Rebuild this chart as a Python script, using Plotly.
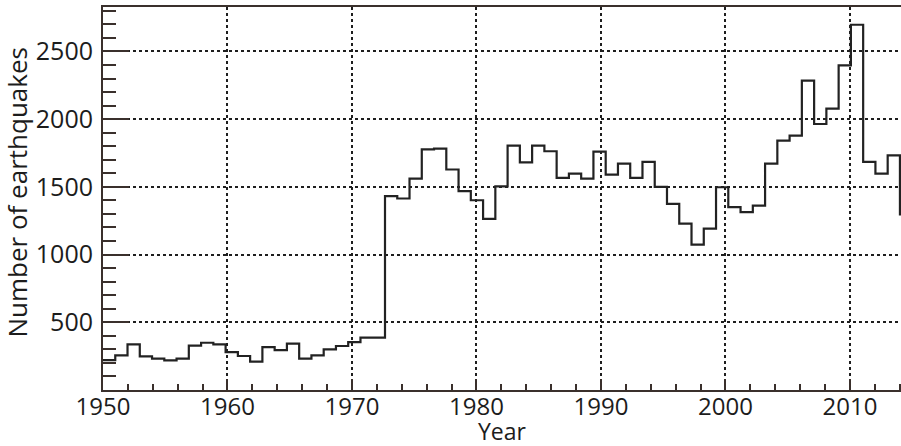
import numpy as np
import plotly.graph_objects as go

# Histogram binning (ROOT-style: 66 bins spanning 1950-2015)
bin_low = 1950
bin_high = 2015
n_bins = 66

# Number of earthquakes per bin
counts = [
    221, 256, 337, 248, 232, 219, 232, 327, 349, 337,   # 1950s
    280, 251, 209, 317, 295, 342, 231, 256, 300, 325,   # 1960s
    354, 386, 387, 1431, 1414, 1561, 1777, 1782, 1628, 1468,  # 1970s
    1401, 1264, 1504, 1805, 1681, 1805, 1763, 1566, 1598, 1561,  # 1980s
    1760, 1591, 1672, 1566, 1684, 1500, 1375, 1229, 1074, 1192,  # 1990s
    1497, 1351, 1313, 1362, 1672, 1841, 1878, 2284, 1964, 2077,  # 2000s
    2397, 2697, 1684, 1598, 1733, 1297,
]

x_tick_years = [1950, 1960, 1970, 1980, 1990, 2000, 2010]
y_tick_values = [500, 1000, 1500, 2000, 2500]

x_title = "Year"
y_title = "Number of earthquakes"

edges = np.linspace(bin_low, bin_high, n_bins + 1)
xs = list(edges)
ys = list(counts) + [counts[-1]]

AXIS_COLOR = "#3a302c"
GRID_COLOR = "#1e1e1e"
FONT = "Open Sans"
TEXT_COLOR = "#1c1c1c"

fig = go.Figure()
fig.add_trace(go.Scatter(
    x=xs, y=ys, mode="lines",
    line=dict(shape="hv", color="#222222", width=2.2),
    hoverinfo="skip", showlegend=False,
))

fig.update_layout(
    width=901, height=446,
    margin=dict(l=103, r=0, t=7, b=56),
    paper_bgcolor="white", plot_bgcolor="white",
    font=dict(family=FONT, size=25, color=TEXT_COLOR),
    showlegend=False,
)

fig.update_xaxes(
    range=[1950, 2014.1],
    tickvals=x_tick_years,
    ticktext=[str(v) for v in x_tick_years],
    ticks="inside", ticklen=11, tickwidth=1.5, tickcolor=AXIS_COLOR,
    showline=True, linecolor=AXIS_COLOR, linewidth=2, mirror=True,
    showgrid=True, gridcolor=GRID_COLOR, gridwidth=1.5, griddash="3px,3px",
    minor=dict(ticks="inside", ticklen=6, tickwidth=1.5, tickcolor=AXIS_COLOR,
               tick0=1950, dtick=2, showgrid=False),
    zeroline=False,
    tickfont=dict(family=FONT, size=24, color=TEXT_COLOR),
    ticklabelstandoff=-6,
)

fig.update_yaxes(
    range=[0, 2828],
    tickvals=y_tick_values,
    ticktext=[str(v) for v in y_tick_values],
    ticks="inside", ticklen=26, tickwidth=1.5, tickcolor=AXIS_COLOR,
    showline=True, linecolor=AXIS_COLOR, linewidth=2, mirror=False,
    showgrid=True, gridcolor=GRID_COLOR, gridwidth=1.5, griddash="3px,3px",
    minor=dict(ticks="inside", ticklen=13, tickwidth=1.5, tickcolor=AXIS_COLOR,
               tick0=0, dtick=100, showgrid=False),
    zeroline=False,
    tickfont=dict(family=FONT, size=25, color=TEXT_COLOR),
    ticklabelstandoff=3,
)

fig.add_annotation(
    text=x_title, xref="paper", yref="paper", x=0.5, y=0,
    xanchor="center", yanchor="middle", yshift=-41, showarrow=False,
    font=dict(family=FONT, size=23, color=TEXT_COLOR),
    borderpad=0,
)
fig.add_annotation(
    text=y_title, xref="paper", yref="paper", x=0, y=0.5,
    xanchor="center", yanchor="middle", xshift=-87, yshift=6,
    textangle=-90, showarrow=False,
    font=dict(family=FONT, size=26, color=TEXT_COLOR),
)

fig.write_html("out.html")
